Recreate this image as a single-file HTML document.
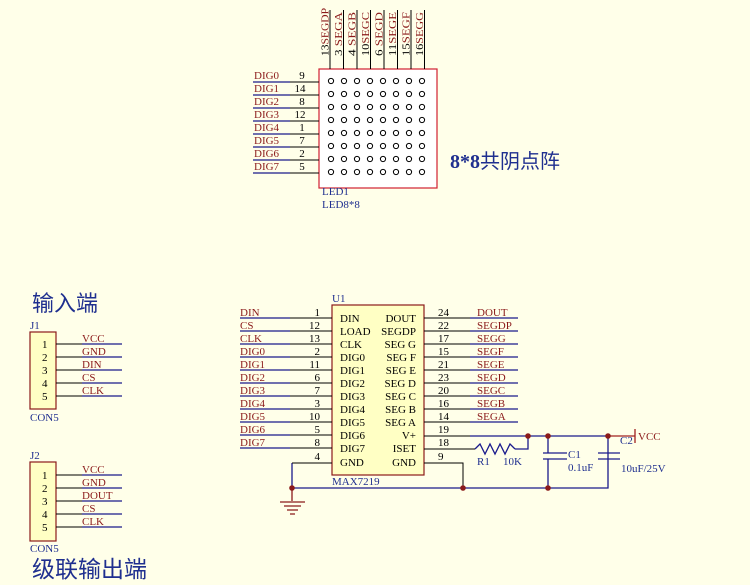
<!DOCTYPE html>
<html><head><meta charset="utf-8"><style>
html,body{margin:0;padding:0;background:#ffffe9;}
svg{display:block}
text{font-family:"Liberation Serif","Noto Serif CJK SC",serif;font-size:11px}
.r{fill:#8b1a1a}.k{fill:#000}.b{fill:#1f2f8f}
.w{stroke:#1a1a8c;stroke-width:1.3;fill:none}
.p{stroke:#000;stroke-width:1;fill:none}
</style></head><body>
<svg width="750" height="585" viewBox="0 0 750 585" xmlns="http://www.w3.org/2000/svg">
<defs>
<pattern id="dots" x="327" y="77" width="13" height="13" patternUnits="userSpaceOnUse">
<circle cx="4" cy="4" r="2.6" fill="none" stroke="#000" stroke-width="1"/>
</pattern>
</defs>
<!-- LED matrix -->
<rect x="319" y="69" width="118" height="119" fill="#fff" stroke="#d02030" stroke-width="1.2"/>
<rect x="325" y="75" width="106" height="106" fill="url(#dots)"/>
<g class="w">
<path d="M253 82H290M253 95H290M253 108H290M253 121H290M253 134H290M253 147H290M253 160H290M253 173H290"/>
</g>
<g class="p">
<path d="M290 82H319M290 95H319M290 108H319M290 121H319M290 134H319M290 147H319M290 160H319M290 173H319"/>
<path d="M330 10V69M343.5 10V69M357 10V69M370.5 10V69M384 10V69M397.5 10V69M411 10V69M424.5 10V69"/>
</g>
<g class="r">
<text x="254" y="79">DIG0</text><text x="254" y="92">DIG1</text><text x="254" y="105">DIG2</text><text x="254" y="118">DIG3</text>
<text x="254" y="131">DIG4</text><text x="254" y="144">DIG5</text><text x="254" y="157">DIG6</text><text x="254" y="170">DIG7</text>
</g>
<g class="k" text-anchor="middle">
<text x="302" y="79">9</text><text x="300" y="92">14</text><text x="302" y="105">8</text><text x="300" y="118">12</text>
<text x="302" y="131">1</text><text x="302" y="144">7</text><text x="302" y="157">2</text><text x="302" y="170">5</text>
</g>
<g class="r">
<text transform="translate(328.5,56) rotate(-90)" textLength="48" lengthAdjust="spacingAndGlyphs"><tspan fill="#000">13</tspan>SEGDP</text>
<text transform="translate(342,56) rotate(-90)" textLength="44" lengthAdjust="spacingAndGlyphs"><tspan fill="#000">3 </tspan>SEGA</text>
<text transform="translate(355.5,56) rotate(-90)" textLength="44" lengthAdjust="spacingAndGlyphs"><tspan fill="#000">4 </tspan>SEGB</text>
<text transform="translate(369,56) rotate(-90)" textLength="44" lengthAdjust="spacingAndGlyphs"><tspan fill="#000">10</tspan>SEGC</text>
<text transform="translate(382.5,56) rotate(-90)" textLength="44" lengthAdjust="spacingAndGlyphs"><tspan fill="#000">6 </tspan>SEGD</text>
<text transform="translate(396,56) rotate(-90)" textLength="44" lengthAdjust="spacingAndGlyphs"><tspan fill="#000">11</tspan>SEGE</text>
<text transform="translate(409.5,56) rotate(-90)" textLength="44" lengthAdjust="spacingAndGlyphs"><tspan fill="#000">15</tspan>SEGF</text>
<text transform="translate(423,56) rotate(-90)" textLength="44" lengthAdjust="spacingAndGlyphs"><tspan fill="#000">16</tspan>SEGG</text>
</g>
<text class="b" x="322" y="195">LED1</text>
<text class="b" x="322" y="208">LED8*8</text>
<text x="450" y="168" style="font-size:20px;font-weight:bold;fill:#1f2f8f">8*8<tspan style="font-family:'Noto Sans CJK SC',sans-serif;font-weight:normal">共阴点阵</tspan></text>

<!-- U1 -->
<rect x="332" y="305" width="92" height="170" fill="#ffffc4" stroke="#8b1a1a" stroke-width="1.2"/>
<text class="b" x="332" y="302">U1</text>
<text class="b" x="332" y="485">MAX7219</text>
<g class="w">
<path d="M240 318H290M240 331H290M240 344H290M240 357H290M240 370H290M240 383H290M240 396H290M240 409H290M240 422H290M240 435H290M240 448H290"/>
<path d="M470 318H518M470 331H518M470 344H518M470 357H518M470 370H518M470 383H518M470 396H518M470 409H518M470 422H518"/>
<path d="M470 436H608M515 449H528V436M292 463V488H608V436M548 436V453M548 459V488M608 436V453M608 459V488"/>
<path d="M543 453H567M543 459H567M598 453H620M598 459H620"/>
<path d="M475 449l5-5l5 10l5-10l5 10l5-10l5 10l5-10l5 5"/>
</g>
<g class="p">
<path d="M290 318H332M290 331H332M290 344H332M290 357H332M290 370H332M290 383H332M290 396H332M290 409H332M290 422H332M290 435H332M290 448H332M292 463H332"/>
<path d="M424 318H470M424 331H470M424 344H470M424 357H470M424 370H470M424 383H470M424 396H470M424 409H470M424 422H470M424 436H470M424 449H475M424 463H463V488"/>
</g>
<path d="M608 436H635M635 429V443" stroke="#a02020" stroke-width="1.3" fill="none"/>
<g fill="#8b1a1a">
<circle cx="292" cy="488" r="2.8"/><circle cx="463" cy="488" r="2.8"/><circle cx="548" cy="488" r="2.8"/>
<circle cx="528" cy="436" r="2.8"/><circle cx="548" cy="436" r="2.8"/><circle cx="608" cy="436" r="2.8"/>
</g>
<path d="M292 488V501M280 502H305M284 506H301M287 510H298M290 514H295" stroke="#8b1a1a" stroke-width="1.3" fill="none"/>
<g class="r">
<text x="240" y="316">DIN</text><text x="240" y="329">CS</text><text x="240" y="342">CLK</text><text x="240" y="355">DIG0</text>
<text x="240" y="368">DIG1</text><text x="240" y="381">DIG2</text><text x="240" y="394">DIG3</text><text x="240" y="407">DIG4</text>
<text x="240" y="420">DIG5</text><text x="240" y="433">DIG6</text><text x="240" y="446">DIG7</text>
<text x="477" y="316">DOUT</text><text x="477" y="329">SEGDP</text><text x="477" y="342">SEGG</text><text x="477" y="355">SEGF</text>
<text x="477" y="368">SEGE</text><text x="477" y="381">SEGD</text><text x="477" y="394">SEGC</text><text x="477" y="407">SEGB</text>
<text x="477" y="420">SEGA</text>
<text x="638" y="440">VCC</text>
</g>
<g class="k" text-anchor="end">
<text x="320" y="316">1</text><text x="320" y="329">12</text><text x="320" y="342">13</text><text x="320" y="355">2</text>
<text x="320" y="368">11</text><text x="320" y="381">6</text><text x="320" y="394">7</text><text x="320" y="407">3</text>
<text x="320" y="420">10</text><text x="320" y="433">5</text><text x="320" y="446">8</text><text x="320" y="460">4</text>
</g>
<g class="k">
<text x="438" y="316">24</text><text x="438" y="329">22</text><text x="438" y="342">17</text><text x="438" y="355">15</text>
<text x="438" y="368">21</text><text x="438" y="381">23</text><text x="438" y="394">20</text><text x="438" y="407">16</text>
<text x="438" y="420">14</text><text x="438" y="433">19</text><text x="438" y="446">18</text><text x="438" y="460">9</text>
<text x="340" y="322">DIN</text><text x="340" y="335">LOAD</text><text x="340" y="348">CLK</text><text x="340" y="361">DIG0</text>
<text x="340" y="374">DIG1</text><text x="340" y="387">DIG2</text><text x="340" y="400">DIG3</text><text x="340" y="413">DIG4</text>
<text x="340" y="426">DIG5</text><text x="340" y="439">DIG6</text><text x="340" y="452">DIG7</text><text x="340" y="466">GND</text>
</g>
<g class="k" text-anchor="end">
<text x="416" y="322">DOUT</text><text x="416" y="335">SEGDP</text><text x="416" y="348">SEG G</text><text x="416" y="361">SEG F</text>
<text x="416" y="374">SEG E</text><text x="416" y="387">SEG D</text><text x="416" y="400">SEG C</text><text x="416" y="413">SEG B</text>
<text x="416" y="426">SEG A</text><text x="416" y="439">V+</text><text x="416" y="452">ISET</text><text x="416" y="466">GND</text>
</g>
<g class="b">
<text x="477" y="465">R1</text><text x="503" y="465">10K</text>
<text x="568" y="458">C1</text><text x="568" y="471">0.1uF</text>
<text x="620" y="444">C2</text><text x="621" y="472">10uF/25V</text>
</g>

<!-- J1 -->
<text x="32" y="311" style="font-size:22px;fill:#1f2f8f;font-family:'Noto Sans CJK SC',sans-serif">输入端</text>
<text class="b" x="30" y="329">J1</text>
<rect x="30" y="332" width="26" height="77" fill="#ffffc4" stroke="#8b1a1a" stroke-width="1.2"/>
<g class="w"><path d="M82 344H122M82 357H122M82 370H122M82 383H122M82 396H122"/></g>
<g class="p"><path d="M56 344H82M56 357H82M56 370H82M56 383H82M56 396H82"/></g>
<g class="k"><text x="42" y="348">1</text><text x="42" y="361">2</text><text x="42" y="374">3</text><text x="42" y="387">4</text><text x="42" y="400">5</text></g>
<g class="r"><text x="82" y="342">VCC</text><text x="82" y="355">GND</text><text x="82" y="368">DIN</text><text x="82" y="381">CS</text><text x="82" y="394">CLK</text></g>
<text class="b" x="30" y="421">CON5</text>

<!-- J2 -->
<text class="b" x="30" y="459">J2</text>
<rect x="30" y="462" width="26" height="79" fill="#ffffc4" stroke="#8b1a1a" stroke-width="1.2"/>
<g class="w"><path d="M82 475H122M82 488H122M82 501H122M82 514H122M82 527H122"/></g>
<g class="p"><path d="M56 475H82M56 488H82M56 501H82M56 514H82M56 527H82"/></g>
<g class="k"><text x="42" y="479">1</text><text x="42" y="492">2</text><text x="42" y="505">3</text><text x="42" y="518">4</text><text x="42" y="531">5</text></g>
<g class="r"><text x="82" y="473">VCC</text><text x="82" y="486">GND</text><text x="82" y="499">DOUT</text><text x="82" y="512">CS</text><text x="82" y="525">CLK</text></g>
<text class="b" x="30" y="552">CON5</text>
<text x="32" y="577" style="font-size:23px;fill:#1f2f8f;font-family:'Noto Sans CJK SC',sans-serif">级联输出端</text>
</svg>
</body></html>
